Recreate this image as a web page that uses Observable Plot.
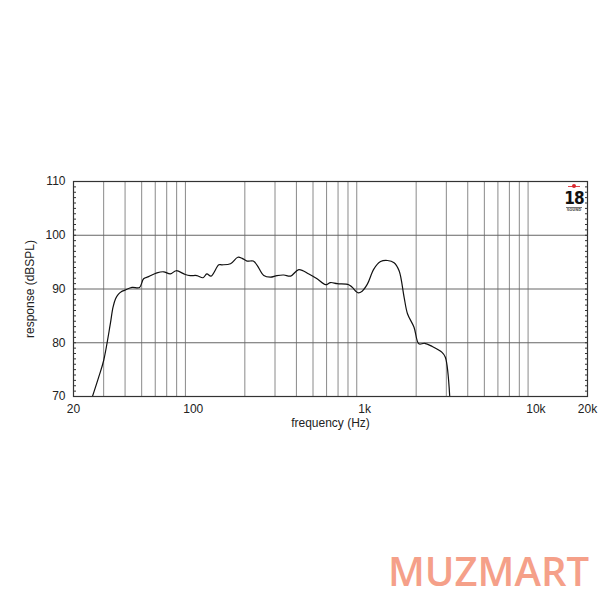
<!DOCTYPE html>
<html>
<head>
<meta charset="utf-8">
<script src="https://cdn.jsdelivr.net/npm/d3@7"></script>
<script src="https://cdn.jsdelivr.net/npm/@observablehq/plot@0.6"></script>
<style>
  html, body { margin: 0; padding: 0; background: #fff; }
  #wrap { position: relative; width: 600px; height: 600px; overflow: hidden; }
  #logo { position: absolute; left: 562px; top: 182px; width: 24px; text-align: center; font-family: "Liberation Sans Narrow", "DejaVu Sans Condensed", "Liberation Sans", sans-serif; }
  #logo .star { position: relative; height: 8px; }
  #logo .star .dot { position: absolute; left: 10px; top: 2px; width: 4px; height: 4px; border-radius: 2px; background: #d8262e; }
  #logo .star .bar { position: absolute; left: 6px; top: 3.5px; width: 12px; height: 1px; background: #e0444b; }
  #logo .num { color: #111; font-size: 17px; line-height: 15px; font-weight: bold; letter-spacing: -1px; margin-top: 1px; }
  #logo .snd { color: #555; font-size: 4px; line-height: 4px; font-weight: bold; border-top: 1px solid #777; margin: 1px 4px 0 4px; }
  #brand { position: absolute; left: 388px; top: 551px; font-family: "Open Sans", sans-serif; font-weight: 600; font-size: 40px; color: #f5a089; line-height: 1; }
</style>
</head>
<body>
<div id="wrap"></div>
<script>
const freq = [25.8, 28, 30, 32.8, 34, 35.2, 36.5, 38, 40, 43.9, 48.6, 51.3, 54.9, 61.4, 67.2, 73.5, 79.4, 89.8, 96, 105, 114, 120, 127, 141, 147, 165, 182, 193, 206, 224, 236, 258, 282, 308, 338, 370, 413, 473, 528, 592, 632, 692, 808, 848, 913, 968, 1038, 1132, 1240, 1360, 1486, 1590, 1700, 1780, 1943, 2074, 2240, 2483, 2832, 2960, 3140];
const spl  = [70, 73.5, 76.7, 83.5, 86.6, 88.2, 89.0, 89.5, 89.8, 90.3, 90.3, 91.9, 92.3, 93.0, 93.2, 92.8, 93.4, 92.7, 92.5, 92.5, 92.1, 92.8, 92.4, 94.5, 94.5, 94.7, 95.9, 95.7, 95.2, 95.2, 94.4, 92.5, 92.2, 92.5, 92.6, 92.4, 93.6, 92.8, 91.9, 90.8, 91.2, 91.0, 90.8, 90.3, 89.3, 89.6, 90.9, 93.7, 95.1, 95.3, 94.9, 93.4, 88.5, 85.4, 82.9, 79.8, 79.9, 79.3, 78.2, 77.3, 70];

const xTicks = [20, 100, 1000, 10000, 20000];
const xTickLabels = ["20", "100", "1k", "10k", "20k"];
const xGrid = [30, 40, 50, 60, 70, 80, 90, 200, 300, 400, 500, 600, 700, 800, 900, 2000, 3000, 4000, 5000, 6000, 7000, 8000, 9000];
const yTicks = [70, 80, 90, 100, 110];
const yGrid = [80, 90, 100];
const yMinor = d3.range(71, 110);

const data = freq.map((f, i) => ({f, db: spl[i]}));

const chart = Plot.plot({
  width: 600,
  height: 600,
  marginLeft: 73,
  marginRight: 13,
  marginTop: 181,
  marginBottom: 204,
  style: {fontFamily: "'Liberation Sans', Arial, sans-serif", fontSize: "12px", background: "#fff", color: "#222"},
  x: {type: "log", domain: [20, 20000]},
  y: {domain: [70, 110]},
  marks: [
    Plot.gridX(xGrid, {stroke: "#8a8a8a", strokeOpacity: 1, strokeWidth: 1}),
    Plot.gridY(yGrid, {stroke: "#666", strokeOpacity: 1, strokeWidth: 1}),
    Plot.axisY(yMinor, {anchor: "left", tickSize: -3, tickFormat: () => "", label: null, stroke: "#333"}),
    Plot.axisY(yMinor, {anchor: "right", tickSize: -3, tickFormat: () => "", label: null, stroke: "#333"}),
    Plot.axisY(yTicks, {anchor: "left", tickSize: 0, tickPadding: 8, fontSize: 12, label: "response (dBSPL)", labelAnchor: "center", labelArrow: "none", labelOffset: 48}),
    Plot.axisX(xTicks, {anchor: "bottom", tickSize: 0, tickPadding: 8, fontSize: 12, tickFormat: (d) => xTickLabels[xTicks.indexOf(d)], label: "frequency (Hz)", labelAnchor: "center", labelArrow: "none", labelOffset: 30}),
    Plot.line(data, {x: "f", y: "db", curve: "catmull-rom", stroke: "#111", strokeWidth: 1.2, clip: true}),
    Plot.frame({stroke: "#333", strokeWidth: 1.2})
  ]
});

const wrap = document.getElementById("wrap");
wrap.appendChild(chart);
const logo = document.createElement("div");
logo.id = "logo";
logo.innerHTML = '<div class="star"><div class="bar"></div><div class="dot"></div></div><div class="num">18</div><div class="snd">SOUND</div>';
wrap.appendChild(logo);
const brand = document.createElement("div");
brand.id = "brand";
brand.textContent = "MUZMART";
wrap.appendChild(brand);
</script>
</body>
</html>
